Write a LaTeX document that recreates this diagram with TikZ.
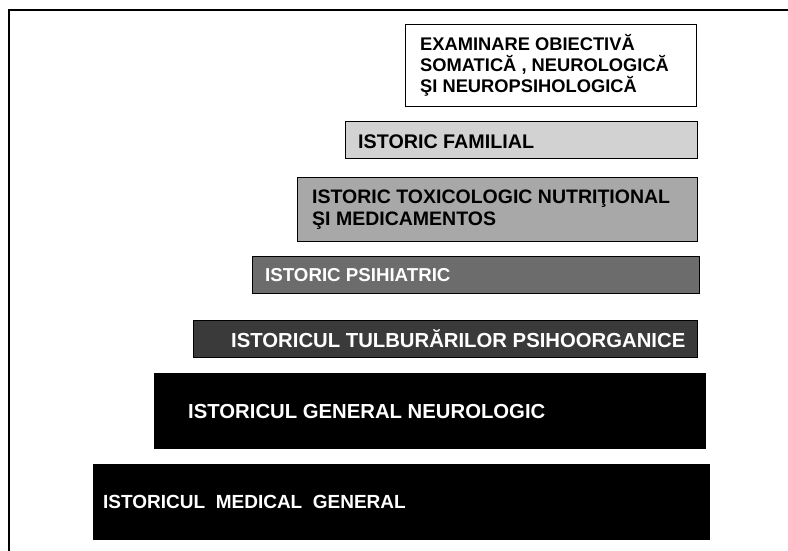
\documentclass[tikz,border=0pt]{standalone}
\usepackage{fontspec}
\setmainfont{Liberation Sans}
\definecolor{famgray}{HTML}{D2D2D2}
\definecolor{toxgray}{HTML}{A8A8A8}
\definecolor{psigray}{HTML}{6C6C6C}
\definecolor{orggray}{HTML}{3A3A3A}
\begin{document}
\begin{tikzpicture}[x=1pt,y=-1pt,
  stepbox/.style 2 args={draw=black, line width=1.2pt, rectangle, anchor=north west,
    minimum width=#1, minimum height=#2, inner sep=0pt},
  steplabel/.style={anchor=west, inner sep=0pt, align=left},
  lightlevel/.style={text=black},
  darklevel/.style={text=white}]
  \useasboundingbox (0,0) rectangle (788,550);

  % page frame (only its top and left edges fall inside the sheet)
  \coordinate (fbl) at (9,552);
  \coordinate (ftl) at (9,10);
  \coordinate (ftr) at (790,10);
  \draw[line width=2pt] (fbl) -- (ftl) -- (ftr);

  % steps of the history pyramid, from the top down
  \node[stepbox={291}{82}, fill=white] (examBox) at (405,24) {};
  \node[steplabel, lightlevel, font=\bfseries\fontsize{18.3}{21}\selectfont]
    (exam) at ([xshift=15pt]examBox.west)
    {EXAMINARE OBIECTIVĂ\\SOMATICĂ , NEUROLOGICĂ\\ŞI NEUROPSIHOLOGICĂ};

  \node[stepbox={352}{37}, fill=famgray] (famBox) at (345,121) {};
  \node[steplabel, lightlevel, font=\bfseries\fontsize{19.7}{22}\selectfont]
    (fam) at ([xshift=13pt,yshift=-1.5pt]famBox.west) {ISTORIC FAMILIAL};

  \node[stepbox={400}{64}, fill=toxgray] (toxBox) at (297,177) {};
  \node[steplabel, lightlevel, font=\bfseries\fontsize{19.5}{22}\selectfont]
    (tox) at ([xshift=15pt]toxBox.west)
    {ISTORIC TOXICOLOGIC NUTRIŢIONAL\\ŞI MEDICAMENTOS};

  \node[stepbox={447}{37}, fill=psigray] (psiBox) at (252,256) {};
  \node[steplabel, darklevel, font=\bfseries\fontsize{18.7}{22}\selectfont]
    (psi) at ([xshift=13pt]psiBox.west) {ISTORIC PSIHIATRIC};

  \node[stepbox={504}{37}, fill=orggray] (orgBox) at (193,320) {};
  \node[steplabel, darklevel, font=\bfseries\fontsize{20.3}{22}\selectfont]
    (org) at ([xshift=38pt]orgBox.west) {ISTORICUL TULBURĂRILOR PSIHOORGANICE};

  \node[stepbox={551}{75}, fill=black] (genBox) at (154,373) {};
  \node[steplabel, darklevel, font=\bfseries\fontsize{20.3}{22}\selectfont]
    (gen) at ([xshift=34pt]genBox.west) {ISTORICUL GENERAL NEUROLOGIC};

  \node[stepbox={616}{75}, fill=black] (medBox) at (93,464) {};
  \node[steplabel, darklevel, font=\bfseries\fontsize{19}{22}\selectfont]
    (med) at ([xshift=10pt]medBox.west) {ISTORICUL\ \ MEDICAL\ \ GENERAL};
\end{tikzpicture}
\end{document}
